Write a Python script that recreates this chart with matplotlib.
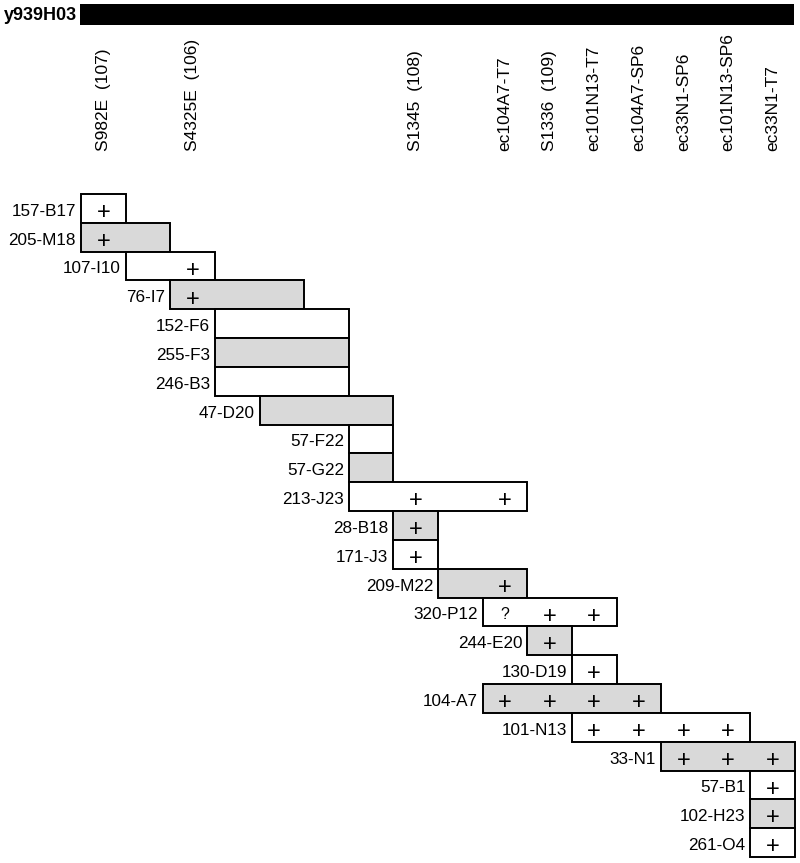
import matplotlib.pyplot as plt
from matplotlib.patches import Rectangle

# markers along the top (name, column index)
markers = ["S982E  (107)", "S4325E  (106)", "S1345  (108)", "ec104A7-T7", "S1336  (109)",
           "ec101N13-T7", "ec104A7-SP6", "ec33N1-SP6", "ec101N13-SP6", "ec33N1-T7"]
marker_cols = [0, 2, 7, 9, 10, 11, 12, 13, 14, 15]

# clones: name, start column, end column
clones = ["157-B17", "205-M18", "107-I10", "76-I7", "152-F6", "255-F3", "246-B3", "47-D20",
          "57-F22", "57-G22", "213-J23", "28-B18", "171-J3", "209-M22", "320-P12", "244-E20",
          "130-D19", "104-A7", "101-N13", "33-N1", "57-B1", "102-H23", "261-O4"]
starts = [0, 0, 1, 2, 3, 3, 3, 4, 6, 6, 6, 7, 7, 8, 9, 10, 11, 9, 11, 13, 15, 15, 15]
ends = [1, 2, 3, 5, 6, 6, 6, 7, 7, 7, 10, 8, 8, 10, 12, 11, 12, 13, 15, 16, 16, 16, 16]
shaded = [False, True] * 11 + [False]

# hits per clone: column -> symbol
hits = [{0: "+"}, {0: "+"}, {2: "+"}, {2: "+"}, {}, {}, {}, {}, {}, {},
        {7: "+", 9: "+"}, {7: "+"}, {7: "+"}, {9: "+"}, {9: "?", 10: "+", 11: "+"},
        {10: "+"}, {11: "+"}, {9: "+", 10: "+", 11: "+", 12: "+"},
        {11: "+", 12: "+", 13: "+", 14: "+"}, {13: "+", 14: "+", 15: "+"},
        {15: "+"}, {15: "+"}, {15: "+"}]

plt.rcParams['font.family'] = ['Liberation Sans', 'DejaVu Sans']

fig = plt.figure(figsize=(8, 8.63), dpi=100)
ax = fig.add_axes([0, 0, 1, 1])
ax.set_xlim(-81 / 44.625, (800 - 81) / 44.625)
ax.set_ylim((863 - 194) / 28.83, -194 / 28.83)
ax.axis("off")

# top YAC bar
ax.add_patch(Rectangle((-0.02, -6.59), 16.0, 0.73, facecolor="black", edgecolor="none"))
ax.text(-0.09, -6.2, "y939H03", ha="right", va="center", fontsize=13, fontweight="bold")

for name, c in zip(markers, marker_cols):
    ax.text(c + 0.5, -1.49, name, rotation=90, ha="center", va="bottom", fontsize=12.5)

for i, (name, s, e) in enumerate(zip(clones, starts, ends)):
    fc = "#d9d9d9" if shaded[i] else "white"
    ax.add_patch(Rectangle((s, i), e - s, 1, facecolor=fc, edgecolor="black", linewidth=1.4))
    ax.text(s - 0.11, i + 0.6, name, ha="right", va="center", fontsize=12.3)
    for c, sym in hits[i].items():
        if sym == "+":
            ax.text(c + 0.5, i + 0.66, sym, ha="center", va="center", fontsize=17)
        else:
            ax.text(c + 0.5, i + 0.6, sym, ha="center", va="center", fontsize=11.5)

fig.savefig("out.png", dpi=100)
